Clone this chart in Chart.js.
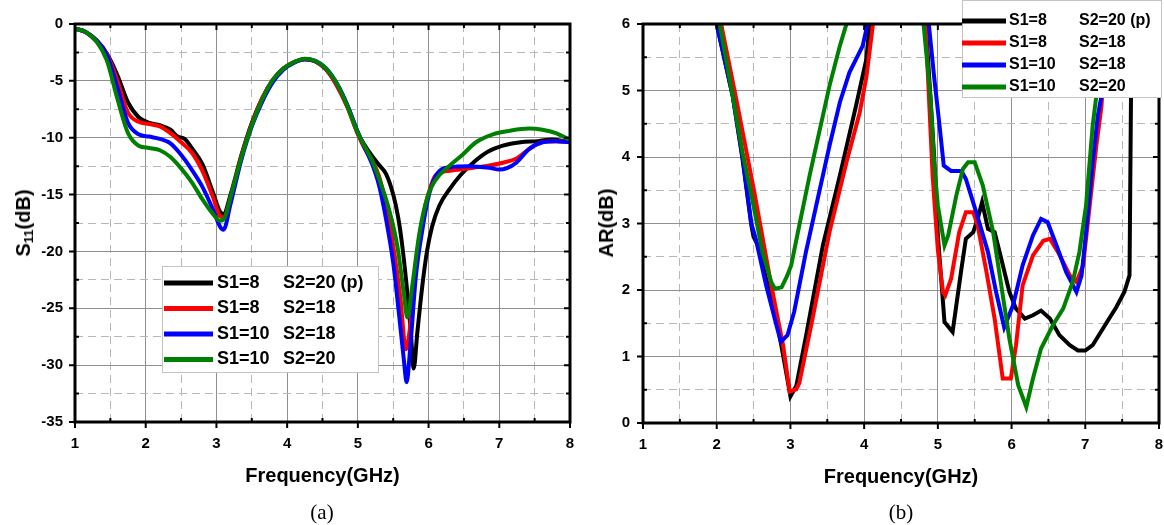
<!DOCTYPE html>
<html>
<head>
<meta charset="utf-8">
<title>S11 and AR vs frequency</title>
<script src="https://cdn.jsdelivr.net/npm/chart.js@4.4.1/dist/chart.umd.min.js"></script>
<style>
  html, body { margin: 0; padding: 0; background: #fff; }
  body { position: relative; width: 1164px; height: 525px; overflow: hidden;
         font-family: "Liberation Sans", Arial, sans-serif; }
  canvas { position: absolute; top: 0; }
  #chartA { left: 0; }
  #chartB { left: 590px; }
  .ytitle { position: absolute; top: 223px; font-weight: bold; font-size: 20px; line-height: 24px;
            white-space: nowrap; transform: translate(-50%, -50%) rotate(-90deg); }
  .ytitle sub { font-size: 13px; vertical-align: -3px; line-height: 0; }
  .caption { position: absolute; top: 499px; font-family: "Liberation Serif", "Times New Roman", serif;
             font-size: 21px; line-height: 26px; transform: translateX(-50%); }
</style>
</head>
<body>
<canvas id="chartA" width="590" height="500"></canvas>
<canvas id="chartB" width="574" height="500"></canvas>
<div class="ytitle" style="left:23px">S<sub>11</sub>(dB)</div>
<div class="ytitle" style="left:606px">AR(dB)</div>
<div class="caption" style="left:322px">(a)</div>
<div class="caption" style="left:901px">(b)</div>
<script>
// series names (two columns in the legend) and colours
const legendS1 = ['S1=8', 'S1=8', 'S1=10', 'S1=10'];
const legendS2 = ['S2=20 (p)', 'S2=18', 'S2=18', 'S2=20'];
const seriesColors = ['#000000', '#ff0000', '#0000ff', '#008000'];

// axis tick labels
const freqTicks = [1, 2, 3, 4, 5, 6, 7, 8];
const s11Ticks = [0, -5, -10, -15, -20, -25, -30, -35];
const arTicks = [0, 1, 2, 3, 4, 5, 6];

// (a) S11 in dB
const s11FreqBlack = [1.0, 1.15, 1.3, 1.45, 1.6, 1.75, 1.9, 2.05, 2.2, 2.35, 2.45, 2.55, 2.65, 2.8, 2.95, 3.05, 3.1, 3.2, 3.35, 3.5,
  3.65, 3.8, 3.95, 4.1, 4.25, 4.4, 4.55, 4.7, 4.85, 5.0, 5.1, 5.2, 5.3, 5.4, 5.5, 5.57, 5.63, 5.71, 5.75, 5.79,
  5.84, 5.91, 5.98, 6.05, 6.15, 6.3, 6.45, 6.65, 6.85, 7.05, 7.3, 7.55, 7.75, 8.0];
const s11Black = [-0.4, -0.7, -1.5, -2.6, -4.5, -6.9, -8.2, -8.7, -8.9, -9.3, -9.9, -10.1, -10.9, -12.3, -14.8, -16.5, -16.7, -15.0, -11.6, -8.7,
  -6.5, -4.9, -3.9, -3.35, -3.1, -3.3, -4.0, -5.3, -7.2, -9.6, -10.7, -11.6, -12.4, -13.2, -15.0, -17.0, -19.6, -24.3, -27.2, -30.3,
  -27.2, -23.1, -19.9, -17.8, -16.0, -14.5, -13.3, -12.1, -11.2, -10.7, -10.4, -10.3, -10.15, -10.4];

const s11FreqRed = [1.0, 1.15, 1.3, 1.45, 1.6, 1.75, 1.9, 2.05, 2.2, 2.35, 2.5, 2.65, 2.8, 2.95, 3.05, 3.1, 3.2, 3.35, 3.5, 3.65,
  3.8, 3.95, 4.1, 4.25, 4.4, 4.55, 4.7, 4.85, 5.0, 5.1, 5.2, 5.3, 5.4, 5.5, 5.6, 5.68, 5.75, 5.82, 5.92, 6.0,
  6.1, 6.3, 6.55, 6.8, 7.05, 7.25, 7.42, 7.6, 7.8, 8.0];
const s11Red = [-0.4, -0.7, -1.4, -2.6, -5.0, -7.8, -8.6, -8.8, -9.0, -9.6, -10.4, -11.3, -12.9, -15.2, -16.9, -17.0, -15.3, -11.7, -8.8, -6.5,
  -4.9, -3.9, -3.35, -3.1, -3.3, -4.0, -5.4, -7.3, -9.7, -11.0, -12.0, -13.4, -16.0, -19.5, -24.0, -28.6, -26.0, -21.0, -17.0, -14.9,
  -13.3, -12.9, -12.7, -12.5, -12.2, -11.8, -11.0, -10.4, -10.3, -10.4];

const s11FreqBlue = [1.0, 1.15, 1.3, 1.45, 1.6, 1.75, 1.9, 2.05, 2.2, 2.35, 2.5, 2.65, 2.8, 2.95, 3.05, 3.1, 3.2, 3.35, 3.5, 3.65,
  3.8, 3.95, 4.1, 4.25, 4.4, 4.55, 4.7, 4.85, 5.0, 5.1, 5.2, 5.3, 5.4, 5.5, 5.58, 5.65, 5.69, 5.74, 5.82, 5.92,
  6.01, 6.13, 6.29, 6.58, 6.86, 7.0, 7.1, 7.24, 7.42, 7.61, 7.8, 8.0];
const s11Blue = [-0.4, -0.7, -1.4, -2.7, -5.6, -8.7, -9.7, -9.9, -10.1, -10.5, -11.5, -12.8, -14.3, -16.3, -17.8, -18.1, -15.8, -12.0, -9.0, -6.8,
  -5.1, -4.0, -3.4, -3.1, -3.25, -3.9, -5.2, -7.1, -9.5, -10.9, -12.3, -14.2, -17.2, -21.0, -25.4, -29.5, -31.5, -28.5, -22.2, -17.8,
  -14.9, -13.1, -12.6, -12.5, -12.65, -12.8, -12.7, -12.2, -11.0, -10.4, -10.3, -10.4];

const s11FreqGreen = [1.0, 1.15, 1.3, 1.45, 1.6, 1.75, 1.9, 2.05, 2.2, 2.35, 2.5, 2.65, 2.8, 2.95, 3.05, 3.12, 3.2, 3.35, 3.5, 3.65,
  3.8, 3.95, 4.1, 4.25, 4.4, 4.55, 4.7, 4.85, 5.0, 5.1, 5.2, 5.3, 5.44, 5.56, 5.65, 5.7, 5.77, 5.87, 5.99, 6.1,
  6.29, 6.48, 6.67, 6.91, 7.14, 7.42, 7.61, 7.8, 8.0];
const s11Green = [-0.4, -0.7, -1.5, -3.2, -6.6, -9.6, -10.7, -10.9, -11.1, -11.7, -12.7, -13.9, -15.4, -16.7, -17.3, -17.0, -15.2, -11.8, -8.9, -6.6,
  -4.9, -3.9, -3.35, -3.05, -3.25, -3.9, -5.2, -7.2, -9.6, -10.8, -12.0, -13.6, -16.3, -19.6, -23.7, -25.8, -23.0, -18.4, -15.1, -13.7,
  -12.5, -11.5, -10.4, -9.7, -9.4, -9.2, -9.3, -9.6, -10.2];

// (b) axial ratio in dB (null = break between the two bands)
const arFreqBlack = [1.9, 2.0, 2.22, 2.35, 2.47, 2.5, 2.56, 2.67, 2.81, 2.92, 3.0, 3.08, 3.21, 3.44, 3.67, 3.89, 4.03, 4.1, 4.5, 4.82,
  4.95, 5.0, 5.09, 5.2, 5.32, 5.38, 5.48, 5.54, 5.6, 5.68, 5.77, 5.86, 5.97, 6.06, 6.18, 6.29, 6.4, 6.52, 6.65, 6.79,
  6.9, 7.0, 7.1, 7.24, 7.42, 7.53, 7.6, 7.62, 7.64];
const arBlack = [6.5, 6.0, 4.9, 3.97, 2.97, 2.8, 2.67, 2.17, 1.57, 0.9, 0.4, 0.56, 1.3, 2.67, 3.72, 4.77, 5.47, 6.3, null, 6.3,
  4.0, 2.82, 1.52, 1.37, 2.32, 2.77, 2.87, 3.07, 3.32, 2.92, 2.87, 2.47, 1.97, 1.72, 1.57, 1.62, 1.69, 1.57, 1.32, 1.17,
  1.09, 1.09, 1.17, 1.42, 1.74, 1.97, 2.22, 4.9, 6.5];

const arFreqRed = [1.9, 2.06, 2.26, 2.51, 2.74, 2.9, 2.99, 3.08, 3.12, 3.3, 3.53, 3.76, 3.94, 4.03, 4.12, 4.16, 4.5, 4.82, 4.93, 5.0,
  5.07, 5.1, 5.18, 5.29, 5.38, 5.48, 5.54, 5.66, 5.77, 5.88, 5.99, 6.06, 6.15, 6.29, 6.43, 6.52, 6.63, 6.79, 6.88, 6.97,
  7.06, 7.15, 7.22, 7.3];
const arRed = [6.6, 6.0, 4.9, 3.47, 2.07, 1.17, 0.47, 0.51, 0.6, 1.57, 2.87, 3.92, 4.67, 5.2, 6.0, 6.3, null, 6.3, 3.7, 2.6,
  1.97, 1.92, 2.17, 2.87, 3.17, 3.17, 2.97, 2.27, 1.57, 0.67, 0.67, 1.17, 2.07, 2.52, 2.74, 2.77, 2.57, 2.22, 2.12, 2.37,
  3.27, 4.17, 4.77, 6.2];

const arFreqBlue = [1.9, 2.0, 2.22, 2.35, 2.47, 2.53, 2.67, 2.81, 2.87, 2.96, 3.05, 3.21, 3.35, 3.53, 3.67, 3.8, 3.98, 4.03, 4.07, 4.5,
  4.85, 4.95, 5.02, 5.08, 5.18, 5.32, 5.38, 5.52, 5.68, 5.79, 5.9, 6.02, 6.15, 6.29, 6.4, 6.49, 6.61, 6.74, 6.88, 6.95,
  7.01, 7.1, 7.17, 7.22, 7.3];
const arBlue = [6.5, 6.0, 4.9, 4.0, 3.0, 2.77, 2.07, 1.47, 1.22, 1.32, 1.67, 2.57, 3.27, 4.17, 4.82, 5.27, 5.67, 5.92, 6.3, null,
  6.3, 5.2, 4.5, 3.87, 3.79, 3.79, 3.67, 3.17, 2.57, 1.97, 1.44, 1.77, 2.37, 2.82, 3.07, 3.02, 2.67, 2.27, 1.97, 2.22,
  2.87, 3.92, 4.62, 4.92, 6.2];

const arFreqGreen = [1.9, 2.04, 2.22, 2.35, 2.49, 2.62, 2.74, 2.79, 2.88, 2.95, 3.01, 3.12, 3.26, 3.39, 3.53, 3.67, 3.76, 3.8, 4.3, 4.78,
  4.9, 4.95, 5.0, 5.09, 5.14, 5.25, 5.34, 5.41, 5.5, 5.61, 5.75, 5.86, 5.97, 6.09, 6.2, 6.29, 6.4, 6.56, 6.7, 6.83,
  6.92, 7.01, 7.1, 7.15, 7.22];
const arGreen = [6.7, 6.0, 4.9, 4.07, 3.32, 2.57, 2.12, 2.02, 2.04, 2.2, 2.37, 2.97, 3.72, 4.37, 5.07, 5.67, 6.0, 6.3, null, 6.3,
  4.9, 3.9, 3.27, 2.67, 2.82, 3.42, 3.82, 3.92, 3.92, 3.57, 2.87, 2.07, 1.27, 0.57, 0.24, 0.67, 1.12, 1.47, 1.72, 2.12,
  2.57, 3.27, 4.47, 4.92, 6.2];

Chart.defaults.font.family = '"Liberation Sans", Arial, sans-serif';
Chart.defaults.color = '#000';

const toPoints = (xs, ys) => xs.map((x, i) => ({ x: x, y: ys[i] }));

function makeDatasets(pairs, smooth) {
  return pairs.map(([xs, ys], i) => ({
    label: legendS1[i] + ' ' + legendS2[i],
    data: toPoints(xs, ys),
    borderColor: seriesColors[i],
    borderWidth: 4,
    pointRadius: 0,
    fill: false,
    tension: 0,
    cubicInterpolationMode: smooth ? 'monotone' : 'default',
    spanGaps: false,
    order: pairs.length - i   // last series ends up on top
  }));
}

// solid grid at labelled ticks, dashed in between
function gridFor(labels) {
  const major = c => c.tick && labels.includes(c.tick.value);
  return {
    grid: { drawTicks: false, lineWidth: 1, color: c => major(c) ? '#909090' : '#b8b8b8' },
    border: { display: false, dash: c => major(c) ? [] : [8, 5] }
  };
}

// box frame with Origin-like tick marks
const framePlugin = {
  id: 'frame',
  afterDatasetsDraw(chart, args, opts) {
    const { ctx, chartArea: a } = chart;
    const xs = chart.scales.x, ys = chart.scales.y;
    ctx.save();
    ctx.strokeStyle = '#000';
    ctx.lineWidth = 2;
    ctx.beginPath();
    xs.ticks.forEach(t => {
      const px = xs.getPixelForValue(t.value);
      if (opts.xMajor.includes(t.value)) {
        ctx.moveTo(px, a.bottom); ctx.lineTo(px, a.bottom + 6);
        ctx.moveTo(px, a.top); ctx.lineTo(px, a.top + 6);
      } else {
        ctx.moveTo(px, a.bottom); ctx.lineTo(px, a.bottom - 4);
        ctx.moveTo(px, a.top); ctx.lineTo(px, a.top + 4);
      }
    });
    ys.ticks.forEach(t => {
      const py = ys.getPixelForValue(t.value);
      if (opts.yMajor.includes(t.value)) {
        ctx.moveTo(a.left - 6, py); ctx.lineTo(a.left, py);
        ctx.moveTo(a.right - 6, py); ctx.lineTo(a.right, py);
      } else {
        ctx.moveTo(a.left, py); ctx.lineTo(a.left + 4, py);
        ctx.moveTo(a.right - 4, py); ctx.lineTo(a.right, py);
      }
    });
    ctx.stroke();
    ctx.lineWidth = 3;
    ctx.strokeRect(a.left, a.top, a.right - a.left, a.bottom - a.top);
    ctx.restore();
  }
};

// legend drawn inside the plot on a white box
const boxLegend = {
  id: 'boxLegend',
  afterDraw(chart, args, o) {
    const ctx = chart.ctx;
    ctx.save();
    ctx.fillStyle = '#fff';
    ctx.fillRect(o.x, o.y, o.w, o.h);
    ctx.strokeStyle = '#c4c4c4';
    ctx.lineWidth = 1;
    ctx.strokeRect(o.x + 0.5, o.y + 0.5, o.w - 1, o.h - 1);
    ctx.font = o.font;
    ctx.textBaseline = 'middle';
    chart.data.datasets.forEach((ds, i) => {
      const y = o.rowY + i * o.rowGap;
      ctx.strokeStyle = ds.borderColor;
      ctx.lineWidth = 5;
      ctx.beginPath();
      ctx.moveTo(o.sample[0], y);
      ctx.lineTo(o.sample[1], y);
      ctx.stroke();
      ctx.fillStyle = '#000';
      ctx.fillText(legendS1[i], o.col1, y);
      ctx.fillText(legendS2[i], o.col2, y);
    });
    ctx.restore();
  }
};

function makeChart(id, cfg) {
  return new Chart(document.getElementById(id), {
    type: 'line',
    data: { datasets: cfg.datasets },
    plugins: [framePlugin, boxLegend],
    options: {
      responsive: false,
      animation: false,
      devicePixelRatio: 1,
      events: [],
      layout: { padding: cfg.padding },
      scales: {
        x: Object.assign({
          type: 'linear', min: 1, max: 8,
          afterFit: s => { s.height = 66; s.paddingLeft = 0; s.paddingRight = 0; },
          ticks: {
            stepSize: 0.5, autoSkip: false, maxRotation: 0, padding: 13,
            font: { size: 15, weight: 'bold' },
            callback: v => freqTicks.includes(v) ? String(v) : ''
          },
          title: { display: true, text: 'Frequency(GHz)', font: { size: 20, weight: 'bold' }, padding: { top: 0, bottom: 0 } }
        }, gridFor(freqTicks)),
        y: Object.assign({
          type: 'linear', min: cfg.yMin, max: cfg.yMax,
          afterFit: s => { s.width = cfg.yWidth; },
          ticks: {
            stepSize: cfg.yStep, autoSkip: false, padding: cfg.yPad,
            font: { size: 15, weight: 'bold' },
            callback: v => cfg.yLabels.includes(v) ? String(v) : ''
          }
        }, gridFor(cfg.yLabels))
      },
      plugins: {
        legend: { display: false },
        tooltip: { enabled: false },
        frame: { xMajor: freqTicks, yMajor: cfg.yLabels },
        boxLegend: cfg.legend
      }
    }
  });
}

makeChart('chartA', {
  datasets: makeDatasets([
    [s11FreqBlack, s11Black], [s11FreqRed, s11Red], [s11FreqBlue, s11Blue], [s11FreqGreen, s11Green]
  ], true),
  padding: { top: 24, right: 20, bottom: 12, left: 0 },
  yMin: -35, yMax: 0, yStep: 2.5, yWidth: 75, yPad: 12, yLabels: s11Ticks,
  legend: { x: 162, y: 266, w: 217, h: 107, sample: [164, 213], col1: 217, col2: 283,
            rowY: 283, rowGap: 25.5, font: 'bold 18px "Liberation Sans", Arial, sans-serif' }
});

makeChart('chartB', {
  datasets: makeDatasets([
    [arFreqBlack, arBlack], [arFreqRed, arRed], [arFreqBlue, arBlue], [arFreqGreen, arGreen]
  ], false),
  padding: { top: 24, right: 5, bottom: 11, left: 0 },
  yMin: 0, yMax: 6, yStep: 0.5, yWidth: 53, yPad: 13, yLabels: arTicks,
  legend: { x: 372, y: 0, w: 200, h: 98, sample: [372, 416], col1: 419, col2: 489,
            rowY: 21, rowGap: 22, font: 'bold 16px "Liberation Sans", Arial, sans-serif' }
});
</script>
</body>
</html>
